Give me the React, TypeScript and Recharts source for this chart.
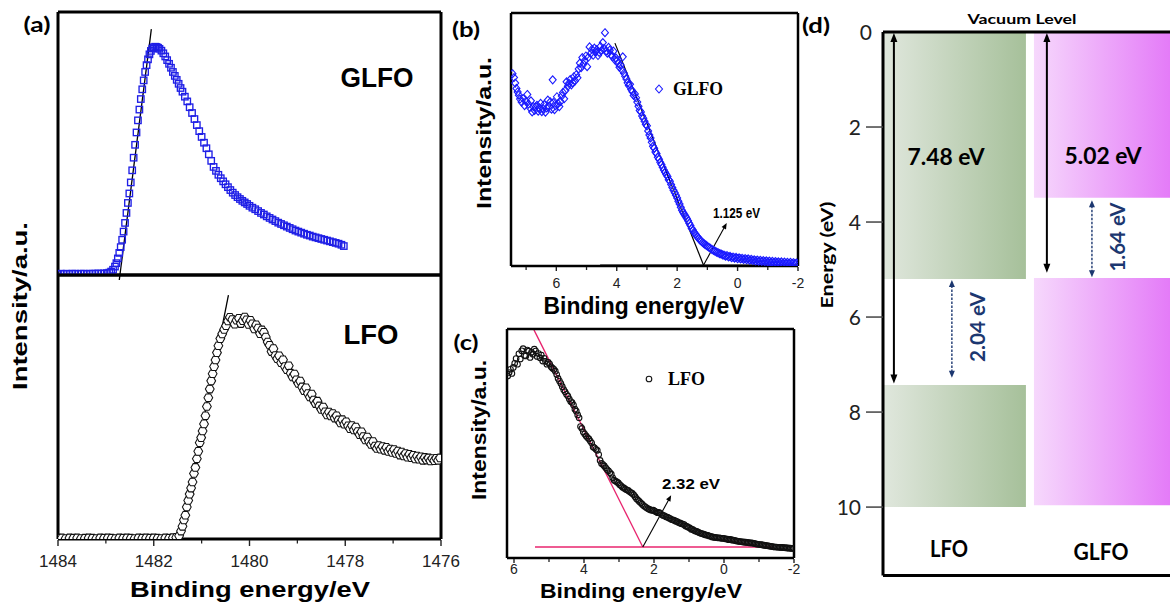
import React from "react";
import { ScatterChart, Scatter, XAxis, YAxis, ReferenceLine, ReferenceArea } from "recharts";

const W = 1170;
const H = 602;
const SANS = "'Liberation Sans', Arial, sans-serif";
const SERIF = "'Liberation Serif', 'Times New Roman', serif";
const CAL = "Lato, 'Open Sans', sans-serif";

// ---------- Panel (a): core-level edges, binding energy (eV) vs intensity (a.u.) ----------
const aTicks = [1484, 1483, 1482, 1481, 1480, 1479, 1478, 1477, 1476];

const glfoCore: number[][] = [
  [1484.0, 0.4], [1483.94, 0.5], [1483.88, 0.4], [1483.82, 0.5], [1483.76, 0.4], [1483.7, 0.5], [1483.64, 0.5],
  [1483.58, 0.4], [1483.52, 0.5], [1483.46, 0.5], [1483.4, 0.4], [1483.34, 0.5], [1483.28, 0.5], [1483.22, 0.5],
  [1483.16, 0.6], [1483.1, 0.5], [1483.04, 0.6], [1482.98, 0.7], [1482.93, 0.9], [1482.89, 1.3],
  [1482.85, 2.0], [1482.81, 3.2], [1482.78, 4.5], [1482.75, 6.3], [1482.72, 8.4], [1482.69, 10.6], [1482.66, 13.4],
  [1482.63, 16.5], [1482.6, 19.8], [1482.57, 23.6], [1482.54, 27.4], [1482.51, 31.0], [1482.48, 35.2], [1482.45, 39.8],
  [1482.42, 44.6], [1482.39, 49.5], [1482.36, 54.2], [1482.33, 58.8], [1482.3, 62.9], [1482.27, 66.9], [1482.24, 70.6],
  [1482.21, 74.0], [1482.18, 77.2], [1482.15, 79.8], [1482.12, 82.0], [1482.09, 83.9], [1482.06, 85.2], [1482.03, 86.1],
  [1482.0, 86.6], [1481.97, 86.8], [1481.94, 86.7], [1481.91, 86.4], [1481.88, 86.0], [1481.84, 85.3], [1481.8, 84.3],
  [1481.76, 83.1], [1481.72, 81.7], [1481.68, 80.3], [1481.64, 78.8], [1481.6, 77.2], [1481.56, 75.7], [1481.52, 74.2],
  [1481.48, 72.7], [1481.44, 71.1], [1481.4, 69.7], [1481.35, 67.8], [1481.3, 66.0], [1481.25, 63.8], [1481.2, 61.6],
  [1481.15, 59.3], [1481.1, 57.0], [1481.05, 54.7], [1481.0, 52.5], [1480.95, 50.3], [1480.9, 48.2], [1480.85, 45.9],
  [1480.8, 43.4], [1480.75, 41.1], [1480.7, 39.6], [1480.65, 38.1], [1480.6, 36.8], [1480.55, 35.6], [1480.5, 34.5],
  [1480.45, 33.4], [1480.4, 32.3], [1480.35, 31.3], [1480.3, 30.4], [1480.25, 29.6], [1480.2, 28.9], [1480.15, 28.2],
  [1480.1, 27.6], [1480.05, 27.0], [1480.0, 26.3], [1479.94, 25.6], [1479.88, 25.0], [1479.82, 24.3], [1479.76, 23.6],
  [1479.7, 23.0], [1479.64, 22.3], [1479.58, 21.7], [1479.52, 21.1], [1479.46, 20.5], [1479.4, 19.9], [1479.34, 19.4],
  [1479.28, 18.9], [1479.22, 18.4], [1479.16, 17.9], [1479.1, 17.4], [1479.04, 16.9], [1478.98, 16.5], [1478.92, 16.1],
  [1478.86, 15.7], [1478.8, 15.3], [1478.74, 15.0], [1478.68, 14.6], [1478.62, 14.3], [1478.56, 14.0], [1478.5, 13.7],
  [1478.44, 13.4], [1478.38, 13.1], [1478.32, 12.8], [1478.26, 12.5], [1478.2, 12.2], [1478.14, 11.9], [1478.08, 11.5],
  [1478.03, 11.0],
];

const lfoCore: number[][] = [
  [1484.0, 0.3], [1483.92, 0.4], [1483.84, 0.2], [1483.76, 0.4], [1483.68, 0.3], [1483.6, 0.4], [1483.52, 0.2],
  [1483.44, 0.3], [1483.36, 0.4], [1483.28, 0.3], [1483.2, 0.2], [1483.12, 0.4], [1483.04, 0.3], [1482.96, 0.4],
  [1482.88, 0.3], [1482.8, 0.2], [1482.72, 0.4], [1482.64, 0.3], [1482.56, 0.4], [1482.48, 0.3], [1482.4, 0.2],
  [1482.32, 0.4], [1482.24, 0.3], [1482.16, 0.4], [1482.08, 0.3], [1482.0, 0.4], [1481.92, 0.3], [1481.84, 0.2],
  [1481.76, 0.4], [1481.68, 0.3], [1481.6, 0.5], [1481.53, 0.6],
  [1481.47, 1.2], [1481.43, 3.0], [1481.4, 4.8], [1481.37, 7.2], [1481.34, 9.0], [1481.31, 12.1], [1481.28, 14.6],
  [1481.25, 17.0], [1481.22, 19.3], [1481.19, 21.6], [1481.16, 24.8], [1481.13, 27.1], [1481.1, 30.4], [1481.07, 33.2],
  [1481.04, 36.5], [1481.01, 38.4], [1480.98, 40.9], [1480.95, 43.6], [1480.92, 46.7], [1480.89, 50.2], [1480.86, 53.5],
  [1480.83, 56.8], [1480.8, 59.9], [1480.77, 62.6], [1480.74, 65.3], [1480.71, 67.8], [1480.68, 70.6], [1480.65, 73.2],
  [1480.61, 75.9], [1480.57, 77.7], [1480.53, 79.4], [1480.49, 80.8], [1480.45, 82.6], [1480.41, 84.0], [1480.36, 83.1],
  [1480.31, 81.4], [1480.27, 82.9], [1480.22, 83.6], [1480.18, 81.6], [1480.14, 82.7], [1480.1, 84.1], [1480.06, 83.0],
  [1480.02, 81.3], [1479.98, 82.8], [1479.94, 81.5], [1479.9, 79.6], [1479.86, 81.1], [1479.82, 79.9], [1479.78, 77.8],
  [1479.74, 79.2], [1479.7, 78.3], [1479.66, 76.5], [1479.62, 74.6], [1479.58, 73.4], [1479.54, 71.0], [1479.5, 72.1],
  [1479.46, 69.5], [1479.42, 68.3], [1479.38, 69.4], [1479.34, 66.8], [1479.3, 67.9], [1479.26, 65.3], [1479.22, 64.1],
  [1479.18, 65.6], [1479.14, 62.8], [1479.1, 61.4], [1479.06, 62.5], [1479.02, 60.3], [1478.98, 58.9], [1478.94, 59.8],
  [1478.9, 57.6], [1478.86, 56.2], [1478.82, 57.3], [1478.78, 55.1], [1478.74, 53.8], [1478.7, 54.9], [1478.66, 52.6],
  [1478.62, 51.3], [1478.58, 52.2], [1478.54, 50.4], [1478.5, 49.1], [1478.46, 50.0], [1478.42, 48.2], [1478.38, 47.0],
  [1478.34, 48.1], [1478.3, 46.6], [1478.26, 47.5], [1478.22, 45.8], [1478.18, 46.7], [1478.14, 45.1], [1478.1, 44.0],
  [1478.06, 45.2], [1478.02, 43.5], [1477.98, 44.4], [1477.94, 42.9], [1477.9, 41.8], [1477.86, 43.0], [1477.82, 41.3],
  [1477.78, 42.4], [1477.74, 40.7], [1477.7, 39.5], [1477.66, 40.6], [1477.62, 38.8], [1477.58, 37.5], [1477.54, 38.6],
  [1477.5, 36.9], [1477.46, 35.8], [1477.42, 36.9], [1477.38, 35.2], [1477.34, 34.3], [1477.3, 35.4], [1477.26, 34.0],
  [1477.22, 35.0], [1477.18, 33.6], [1477.14, 34.7], [1477.1, 33.2], [1477.06, 34.1], [1477.02, 32.8], [1476.98, 33.9],
  [1476.94, 32.4], [1476.9, 33.3], [1476.86, 31.8], [1476.82, 32.9], [1476.78, 31.5], [1476.74, 32.4], [1476.7, 31.0],
  [1476.66, 32.1], [1476.62, 30.8], [1476.58, 31.7], [1476.54, 30.3], [1476.5, 31.4], [1476.46, 30.2], [1476.42, 31.1],
  [1476.38, 29.8], [1476.34, 30.9], [1476.3, 29.9], [1476.26, 30.7], [1476.22, 29.6], [1476.18, 30.5], [1476.14, 29.7],
  [1476.1, 30.6], [1476.06, 29.8], [1476.02, 30.7],
];

const glfoCoreTangent = [[1482.72, -1.9], [1482.05, 93.5]];
const lfoCoreTangent = [[1481.45, 0.4], [1480.44, 92.4]];

// ---------- Panel (b): GLFO valence band ----------
const bTicks = [7, 6, 5, 4, 3, 2, 1, 0, -1, -2];
const glfoVB: number[][] = [
  [7.45, 76.0], [7.4, 74.5], [7.36, 72.3], [7.32, 70.2], [7.28, 68.8], [7.24, 67.5], [7.2, 66.0], [7.15, 64.8],
  [7.1, 66.2], [7.05, 63.4], [7.0, 65.1], [6.96, 67.8], [6.92, 64.0], [6.88, 62.6], [6.84, 65.3], [6.8, 60.9],
  [6.76, 63.0], [6.72, 61.5], [6.68, 62.9], [6.64, 63.5], [6.6, 61.2], [6.56, 62.4], [6.52, 64.3], [6.48, 61.0],
  [6.44, 62.2], [6.4, 63.8], [6.36, 60.8], [6.32, 62.5], [6.28, 65.6], [6.24, 63.1], [6.2, 64.9], [6.16, 62.0],
  [6.12, 73.6], [6.1, 64.6], [6.06, 61.8], [6.02, 63.4], [5.98, 66.9], [5.94, 64.2], [5.9, 63.0], [5.86, 65.0],
  [5.82, 67.2], [5.78, 68.6], [5.74, 66.1], [5.7, 69.4], [5.66, 72.8], [5.62, 71.0], [5.58, 72.2], [5.54, 73.7],
  [5.5, 71.6], [5.46, 72.5], [5.42, 74.8], [5.38, 73.2], [5.34, 75.6], [5.3, 74.4], [5.26, 77.9], [5.22, 80.2],
  [5.18, 78.4], [5.14, 82.4], [5.1, 79.8], [5.06, 81.2], [5.02, 83.0], [4.98, 78.8], [4.94, 82.5], [4.9, 86.6],
  [4.86, 84.0], [4.82, 85.6], [4.78, 83.3], [4.74, 86.1], [4.7, 84.7], [4.66, 85.5], [4.62, 83.2], [4.58, 84.4],
  [4.54, 86.8], [4.5, 85.2], [4.46, 88.3], [4.42, 86.0], [4.39, 92.2], [4.35, 85.0], [4.31, 84.1], [4.27, 86.4],
  [4.23, 85.3], [4.19, 83.6], [4.15, 82.8], [4.11, 84.9], [4.07, 81.6], [4.03, 82.3], [3.99, 81.2], [3.95, 80.0],
  [3.91, 78.6], [3.87, 79.4], [3.83, 77.5], [3.8, 82.7], [3.76, 76.2], [3.72, 75.0], [3.68, 73.9], [3.64, 72.4],
  [3.6, 71.3], [3.56, 71.8], [3.52, 69.8], [3.48, 68.9], [3.44, 67.4], [3.4, 68.0], [3.36, 66.5], [3.32, 64.8],
  [3.28, 63.1], [3.24, 61.5], [3.2, 60.9], [3.16, 59.3], [3.12, 58.4], [3.08, 57.2], [3.04, 56.0], [3.0, 55.4],
  [2.96, 53.4], [2.92, 51.8], [2.88, 50.6], [2.84, 48.9], [2.8, 47.3], [2.76, 46.5], [2.72, 45.1], [2.68, 44.4],
  [2.64, 43.0], [2.6, 42.2], [2.56, 41.0], [2.52, 40.1], [2.48, 39.0], [2.44, 37.9], [2.4, 37.1], [2.36, 36.2],
  [2.32, 35.4], [2.28, 34.1], [2.24, 33.5], [2.2, 32.2], [2.16, 31.0], [2.12, 29.9], [2.08, 29.0], [2.04, 28.0],
  [2.0, 26.9], [1.96, 25.6], [1.92, 24.5], [1.88, 23.2], [1.84, 22.0], [1.8, 21.1], [1.76, 20.4], [1.72, 19.6],
  [1.68, 18.8], [1.64, 17.9], [1.6, 16.9], [1.56, 16.0], [1.52, 14.9], [1.48, 14.2], [1.44, 13.3], [1.4, 12.7],
  [1.36, 12.0], [1.32, 11.4], [1.28, 10.8], [1.24, 10.2], [1.2, 9.8], [1.16, 9.3], [1.12, 8.9], [1.08, 8.5],
  [1.04, 8.2], [1.0, 7.8], [0.95, 7.4], [0.9, 7.0], [0.85, 6.6], [0.8, 6.2], [0.75, 5.9], [0.7, 5.5], [0.65, 5.3],
  [0.6, 4.9], [0.55, 4.8], [0.5, 4.4], [0.45, 4.3], [0.4, 3.9], [0.35, 4.1], [0.3, 3.6], [0.25, 3.8], [0.2, 3.3],
  [0.15, 3.5], [0.1, 3.1], [0.05, 3.4], [0.0, 2.9], [-0.05, 3.2], [-0.1, 2.8], [-0.15, 3.0], [-0.2, 2.6], [-0.25, 2.9],
  [-0.3, 2.5], [-0.35, 2.8], [-0.4, 2.3], [-0.45, 2.6], [-0.5, 2.2], [-0.55, 2.4], [-0.6, 2.0], [-0.65, 2.3],
  [-0.7, 1.9], [-0.75, 2.2], [-0.8, 1.8], [-0.85, 2.1], [-0.9, 1.7], [-0.95, 2.0], [-1.0, 1.6], [-1.05, 1.9],
  [-1.1, 1.5], [-1.15, 1.8], [-1.2, 1.4], [-1.25, 1.7], [-1.3, 1.4], [-1.35, 1.6], [-1.4, 1.3], [-1.45, 1.6],
  [-1.5, 1.2], [-1.55, 1.5], [-1.6, 1.2], [-1.65, 1.4], [-1.7, 1.1], [-1.75, 1.4], [-1.8, 1.1], [-1.85, 1.3],
  [-1.9, 1.0], [-1.95, 1.2],
];
const glfoVBTangent = [[4.06, 88.1], [1.125, 0.3]];
const glfoVBBase = [[4.55, 0.4], [-2, 0.4]];
const glfoVBArrow = [[1.125, 0.4], [0.36, 17.0]];

// ---------- Panel (c): LFO valence band ----------
const cTicks = [6, 5, 4, 3, 2, 1, 0, -1, -2];
const lfoVB: number[][] = [
  [6.18, 79.5], [6.14, 81.0], [6.1, 82.4], [6.06, 80.6], [6.02, 83.2], [5.98, 85.0], [5.94, 87.1], [5.9, 84.6],
  [5.86, 89.2], [5.82, 86.9], [5.78, 90.5], [5.74, 91.4], [5.7, 88.4], [5.66, 88.2], [5.62, 90.8], [5.58, 90.3],
  [5.54, 87.6], [5.5, 89.8], [5.46, 89.0], [5.42, 91.2], [5.38, 90.4], [5.34, 88.0], [5.3, 89.3], [5.26, 87.4],
  [5.22, 88.6], [5.18, 86.0], [5.14, 87.2], [5.1, 85.9], [5.06, 84.6], [5.02, 85.4], [4.98, 84.7], [4.94, 83.5],
  [4.9, 82.9], [4.86, 82.4], [4.82, 81.6], [4.78, 80.1], [4.74, 78.4], [4.7, 77.3], [4.66, 76.2], [4.62, 74.8],
  [4.58, 73.5], [4.54, 72.6], [4.5, 71.5], [4.46, 70.7], [4.42, 69.4], [4.38, 68.3], [4.34, 67.9], [4.3, 66.8],
  [4.26, 65.0], [4.22, 64.1], [4.18, 62.5], [4.14, 61.2], [4.1, 57.4], [4.06, 56.6], [4.02, 55.0], [3.98, 54.1],
  [3.94, 53.3], [3.9, 52.6], [3.86, 52.0], [3.82, 51.1], [3.78, 50.2], [3.74, 48.5], [3.7, 48.1], [3.66, 47.5],
  [3.62, 47.0], [3.58, 45.2], [3.54, 42.6], [3.5, 41.3], [3.46, 40.8], [3.42, 40.2], [3.38, 39.4], [3.34, 38.6],
  [3.3, 38.1], [3.26, 37.3], [3.22, 36.6], [3.18, 35.0], [3.14, 34.0], [3.1, 33.6], [3.06, 33.2], [3.02, 32.8],
  [2.98, 32.0], [2.94, 31.5], [2.9, 30.9], [2.86, 30.6], [2.82, 30.1], [2.78, 29.8], [2.74, 29.5], [2.7, 29.0],
  [2.66, 28.6], [2.62, 28.2], [2.58, 27.6], [2.54, 26.8], [2.5, 25.9], [2.46, 25.3], [2.42, 24.7], [2.38, 24.1],
  [2.34, 23.5], [2.3, 22.9], [2.26, 22.4], [2.22, 22.0], [2.18, 21.6], [2.14, 21.3], [2.1, 21.0], [2.06, 20.8],
  [2.02, 20.9], [1.98, 20.5], [1.94, 20.2], [1.9, 19.8], [1.86, 19.9], [1.82, 19.5], [1.78, 19.0], [1.74, 18.6],
  [1.7, 18.4], [1.66, 18.0], [1.62, 17.9], [1.58, 17.5], [1.54, 17.2], [1.5, 16.8], [1.46, 16.7], [1.42, 16.4],
  [1.38, 16.1], [1.34, 15.9], [1.3, 15.5], [1.26, 15.3], [1.22, 15.0], [1.18, 14.8], [1.14, 14.6], [1.1, 14.0],
  [1.06, 13.8], [1.02, 13.4], [0.98, 13.2], [0.94, 12.6], [0.9, 12.5], [0.86, 12.1], [0.82, 11.8], [0.78, 11.6],
  [0.74, 11.3], [0.7, 11.0], [0.66, 10.8], [0.62, 10.6], [0.58, 10.4], [0.54, 10.1], [0.5, 10.0], [0.46, 9.9],
  [0.42, 9.6], [0.38, 9.5], [0.34, 9.2], [0.3, 9.1], [0.26, 9.0], [0.22, 8.9], [0.18, 8.8], [0.14, 8.8], [0.1, 8.7],
  [0.06, 8.6], [0.02, 8.6], [-0.02, 8.5], [-0.06, 8.3], [-0.1, 8.2], [-0.14, 8.0], [-0.18, 8.1], [-0.22, 7.9],
  [-0.26, 7.8], [-0.3, 7.7], [-0.34, 7.5], [-0.38, 7.4], [-0.42, 7.3], [-0.46, 7.2], [-0.5, 7.1], [-0.54, 7.0],
  [-0.58, 6.9], [-0.62, 6.9], [-0.66, 6.8], [-0.7, 6.7], [-0.74, 6.6], [-0.78, 6.6], [-0.82, 6.5], [-0.86, 6.4],
  [-0.9, 6.2], [-0.94, 6.1], [-0.98, 6.0], [-1.02, 5.9], [-1.06, 5.9], [-1.1, 5.7], [-1.14, 5.6], [-1.18, 5.5],
  [-1.22, 5.4], [-1.26, 5.3], [-1.3, 5.2], [-1.34, 5.1], [-1.38, 5.0], [-1.42, 4.9], [-1.46, 4.8], [-1.5, 4.8],
  [-1.54, 4.7], [-1.58, 4.7], [-1.62, 4.6], [-1.66, 4.6], [-1.7, 4.5], [-1.74, 4.5], [-1.78, 4.4], [-1.82, 4.4],
  [-1.86, 4.3], [-1.9, 4.3], [-1.94, 4.2], [-1.98, 4.2],
];
const lfoVBTangent = [[5.43, 99.6], [2.32, 4.8]];
const lfoVBBase = [[5.4, 4.8], [-1.43, 4.8]];
const lfoVBArrow = [[2.32, 4.8], [1.51, 27.4]];

// ---------- Panel (d): band diagram (energy below vacuum level, eV) ----------
const dTicks = [0, 2, 4, 6, 8, 10];
const bandNames = ["LFO", "GLFO"];
const bandX = [[0, 4.98], [5.26, 10]];
const upperBand = [[0, 5.2], [0, 3.49]];
const lowerBand = [[7.43, 10], [5.18, 9.96]];
const bandGrad = ["gradLFO", "gradGLFO"];
const workArrows = [[0.38, 0.02, 7.4], [5.71, 0.02, 5.07]];
const gapArrows = [[2.4, 5.22, 7.28], [7.28, 3.54, 5.16]];

const toPts = (arr: number[][]) => arr.map(([x, y]) => ({ x, y }));
const seg = (s: number[][]) => [{ x: s[0][0], y: s[0][1] }, { x: s[1][0], y: s[1][1] }];

const frame = (w: number) => ({ stroke: "#000", strokeWidth: w });

// margins so that the plot rectangle is exactly [l, r] x [t, b]; every frame axis is 1px thick
const box = (l: number, t: number, r: number, b: number, right = true) => ({
  top: t - 1,
  left: l - 1,
  right: right ? W - r - 1 : W - r,
  bottom: H - b - 1,
});

const squareShape = (p: any) => (
  <rect x={p.cx - 3.2} y={p.cy - 3.2} width={6.4} height={6.4} fill="none" stroke="#1f1fe6" strokeWidth={1.35} />
);
const hexShape = (p: any) => {
  const r = 4.4;
  const pts = [0, 60, 120, 180, 240, 300]
    .map((a) => `${p.cx + r * Math.cos((a * Math.PI) / 180)},${p.cy + r * Math.sin((a * Math.PI) / 180)}`)
    .join(" ");
  return <polygon points={pts} fill="#fff" stroke="#111" strokeWidth={1.05} />;
};
const diamondShape = (p: any) => (
  <polygon
    points={`${p.cx},${p.cy - 4} ${p.cx + 3.5},${p.cy} ${p.cx},${p.cy + 4} ${p.cx - 3.5},${p.cy}`}
    fill="none"
    stroke="#1a1aff"
    strokeWidth={1.1}
  />
);
const circleShape = (p: any) => <circle cx={p.cx} cy={p.cy} r={2.8} fill="none" stroke="#111" strokeWidth={1.1} />;

function arrowShape(color: string, sw: number, head: number, hw: number, both: boolean, dash?: string) {
  return (p: any) => {
    const { x1, y1, x2, y2 } = p;
    const dx = x2 - x1;
    const dy = y2 - y1;
    const L = Math.hypot(dx, dy) || 1;
    const ux = dx / L;
    const uy = dy / L;
    const nx = -uy;
    const ny = ux;
    const tri = (tx: number, ty: number, du: number, dv: number) => {
      const bx = tx - du * head;
      const by = ty - dv * head;
      return `${tx},${ty} ${bx + nx * hw},${by + ny * hw} ${bx - nx * hw},${by - ny * hw}`;
    };
    const sx = both ? x1 + ux * head * 0.8 : x1;
    const sy = both ? y1 + uy * head * 0.8 : y1;
    const ex = x2 - ux * head * 0.8;
    const ey = y2 - uy * head * 0.8;
    return (
      <g>
        <line x1={sx} y1={sy} x2={ex} y2={ey} stroke={color} strokeWidth={sw} strokeDasharray={dash} />
        <polygon points={tri(x2, y2, ux, uy)} fill={color} />
        {both && <polygon points={tri(x1, y1, -ux, -uy)} fill={color} />}
      </g>
    );
  };
}

const makeXTick = (fs: number, gap: number, majorLen: number, minorLen: number) => (p: any) => {
  const v = p.payload.value;
  if (Math.abs(v) % 2 === 0) {
    return (
      <g>
        <line x1={p.x} x2={p.x} y1={p.y + 1} y2={p.y + 1 + majorLen} stroke="#222" strokeWidth={1.4} />
        <text x={p.x} y={p.y + gap} dy="0.72em" textAnchor="middle" fontSize={fs} fontFamily={SANS} fill="#222">
          {String(v)}
        </text>
      </g>
    );
  }
  return <line x1={p.x} x2={p.x} y1={p.y + 1} y2={p.y + 1 + minorLen} stroke="#222" strokeWidth={1.3} />;
};

const dYTick = (p: any) => {
  const v = p.payload.value;
  if (v === 0) {
    return (
      <text x={p.x - 11} y={p.y} dy="0.36em" textAnchor="end" fontSize={21} fontFamily={CAL} fill="#222">
        0
      </text>
    );
  }
  return (
    <g>
      <line x1={p.x - 17} x2={p.x} y1={p.y} y2={p.y} stroke="#444" strokeWidth={1.5} />
      <text x={p.x - 22} y={p.y} dy="0.36em" textAnchor="end" fontSize={21} fontFamily={CAL} fill="#222">
        {String(v)}
      </text>
    </g>
  );
};

const abs: React.CSSProperties = { position: "absolute", left: 0, top: 0 };

type Lbl = { t: string; x: number; y: number; fs: number; len: number; f?: string; rot?: number; fill?: string; anchor?: string };
const labels: Lbl[] = [
  { t: "(a)", x: 37, y: 23, fs: 21, len: 27, f: CAL },
  { t: "GLFO", x: 377, y: 78, fs: 27, len: 73 },
  { t: "LFO", x: 371, y: 335, fs: 27, len: 55 },
  { t: "Intensity/a.u.", x: 20, y: 306, fs: 20, len: 168, rot: -90 },
  { t: "Binding energy/eV", x: 250, y: 589, fs: 22, len: 240 },
  { t: "(b)", x: 466, y: 28, fs: 21, len: 28, f: CAL },
  { t: "Intensity/a.u.", x: 484, y: 133, fs: 20, len: 152, rot: -90 },
  { t: "Binding energy/eV", x: 644, y: 306, fs: 23, len: 201 },
  { t: "GLFO", x: 673, y: 89, fs: 18, len: 50, f: SERIF, anchor: "start" },
  { t: "1.125 eV", x: 713, y: 212, fs: 15, len: 47, anchor: "start" },
  { t: "(c)", x: 466, y: 341, fs: 21, len: 25, f: CAL },
  { t: "Intensity/a.u.", x: 479, y: 430, fs: 20, len: 140, rot: -90 },
  { t: "Binding energy/eV", x: 641, y: 590, fs: 21, len: 202 },
  { t: "LFO", x: 668, y: 379, fs: 18, len: 37, f: SERIF, anchor: "start" },
  { t: "2.32 eV", x: 662, y: 483, fs: 15, len: 58, anchor: "start" },
  { t: "(d)", x: 816, y: 24, fs: 21, len: 28, f: CAL },
  { t: "Vacuum Level", x: 1022, y: 18.5, fs: 14, len: 109, f: CAL },
  { t: "7.48 eV", x: 946, y: 156, fs: 23, len: 77, f: CAL },
  { t: "5.02 eV", x: 1103, y: 155, fs: 23, len: 77, f: CAL },
  { t: "2.04 eV", x: 977, y: 327, fs: 20, len: 70, f: CAL, rot: -90, fill: "#1c3770" },
  { t: "1.64 eV", x: 1117, y: 237, fs: 20, len: 69, f: CAL, rot: -90, fill: "#1c3770" },
  { t: "Energy (eV)", x: 826, y: 255, fs: 17, len: 107, f: CAL, rot: -90 },
  { t: "LFO", x: 949, y: 548, fs: 22, len: 38, f: CAL },
  { t: "GLFO", x: 1101, y: 551, fs: 22, len: 55, f: CAL },
];

export default function App() {
  return (
    <div style={{ position: "absolute", left: 0, top: 0, width: W, height: H, overflow: "hidden", background: "#fff" }}>
      <svg width={0} height={0} style={{ position: "absolute" }}>
        <defs>
          <linearGradient id="gradLFO" x1="0" y1="0" x2="1" y2="0">
            <stop offset="0%" stopColor="#e0e7dd" />
            <stop offset="100%" stopColor="#a6c09a" />
          </linearGradient>
          <linearGradient id="gradGLFO" x1="0" y1="0" x2="1" y2="0">
            <stop offset="0%" stopColor="#f6d8fc" />
            <stop offset="100%" stopColor="#e47bf8" />
          </linearGradient>
        </defs>
      </svg>

      {/* (a) top: GLFO */}
      <div style={abs}>
        <ScatterChart width={W} height={H} margin={box(58, 12, 441, 275)}>
          <XAxis type="number" dataKey="x" domain={[1476, 1484]} reversed allowDataOverflow tick={false} tickLine={false} axisLine={frame(3)} height={1} />
          <XAxis xAxisId="t" orientation="top" type="number" domain={[0, 1]} tick={false} tickLine={false} axisLine={frame(3)} height={1} />
          <YAxis type="number" dataKey="y" domain={[0, 100]} allowDataOverflow tick={false} tickLine={false} axisLine={frame(3)} width={1} />
          <YAxis yAxisId="r" orientation="right" type="number" domain={[0, 1]} tick={false} tickLine={false} axisLine={frame(3)} width={1} />
          <Scatter data={toPts(glfoCore)} shape={squareShape} isAnimationActive={false} />
          <ReferenceLine segment={seg(glfoCoreTangent)} stroke="#000" strokeWidth={1.3} ifOverflow="visible" />
        </ScatterChart>
      </div>

      {/* (a) bottom: LFO */}
      <div style={abs}>
        <ScatterChart width={W} height={H} margin={box(58, 275, 441, 539)}>
          <XAxis type="number" dataKey="x" domain={[1476, 1484]} reversed allowDataOverflow ticks={aTicks} interval={0}
            tick={makeXTick(17, 16, 6, 3.5)} tickLine={false} tickSize={0} tickMargin={0} axisLine={frame(3)} height={1} />
          <XAxis xAxisId="t" orientation="top" type="number" domain={[0, 1]} tick={false} tickLine={false} axisLine={frame(3)} height={1} />
          <YAxis type="number" dataKey="y" domain={[0, 100]} allowDataOverflow tick={false} tickLine={false} axisLine={frame(3)} width={1} />
          <YAxis yAxisId="r" orientation="right" type="number" domain={[0, 1]} tick={false} tickLine={false} axisLine={frame(3)} width={1} />
          <Scatter data={toPts(lfoCore)} shape={hexShape} isAnimationActive={false} />
          <ReferenceLine segment={seg(lfoCoreTangent)} stroke="#000" strokeWidth={1.3} ifOverflow="visible" />
        </ScatterChart>
      </div>

      {/* (b) GLFO valence band */}
      <div style={abs}>
        <ScatterChart width={W} height={H} margin={box(511, 13, 798, 266)}>
          <XAxis type="number" dataKey="x" domain={[-2, 7.5]} reversed allowDataOverflow ticks={bTicks} interval={0}
            tick={makeXTick(14, 12, 4, 3)} tickLine={false} tickSize={0} tickMargin={0} axisLine={frame(2.5)} height={1} />
          <XAxis xAxisId="t" orientation="top" type="number" domain={[0, 1]} tick={false} tickLine={false} axisLine={frame(2.5)} height={1} />
          <YAxis type="number" dataKey="y" domain={[0, 100]} allowDataOverflow tick={false} tickLine={false} axisLine={frame(2.5)} width={1} />
          <YAxis yAxisId="r" orientation="right" type="number" domain={[0, 1]} tick={false} tickLine={false} axisLine={frame(2.5)} width={1} />
          <Scatter data={toPts(glfoVB)} shape={diamondShape} isAnimationActive={false} />
          <ReferenceLine segment={seg(glfoVBBase)} stroke="#000" strokeWidth={1} ifOverflow="visible" />
          <ReferenceLine segment={seg(glfoVBTangent)} stroke="#000" strokeWidth={1.2} ifOverflow="visible" />
          <ReferenceLine segment={seg(glfoVBArrow)} ifOverflow="visible" shape={arrowShape("#000", 1.1, 6, 2.5, false)} />
        </ScatterChart>
      </div>

      {/* (c) LFO valence band */}
      <div style={abs}>
        <ScatterChart width={W} height={H} margin={box(507, 329, 794, 558)}>
          <XAxis type="number" dataKey="x" domain={[-2, 6.2]} reversed allowDataOverflow ticks={cTicks} interval={0}
            tick={makeXTick(14, 6, 4, 3)} tickLine={false} tickSize={0} tickMargin={0} axisLine={frame(2.5)} height={1} />
          <XAxis xAxisId="t" orientation="top" type="number" domain={[0, 1]} tick={false} tickLine={false} axisLine={frame(2.5)} height={1} />
          <YAxis type="number" dataKey="y" domain={[0, 100]} allowDataOverflow tick={false} tickLine={false} axisLine={frame(2.5)} width={1} />
          <YAxis yAxisId="r" orientation="right" type="number" domain={[0, 1]} tick={false} tickLine={false} axisLine={frame(2.5)} width={1} />
          <Scatter data={toPts(lfoVB)} shape={circleShape} isAnimationActive={false} />
          <ReferenceLine segment={seg(lfoVBBase)} stroke="#e8246e" strokeWidth={1.3} ifOverflow="visible" />
          <ReferenceLine segment={seg(lfoVBTangent)} stroke="#e8246e" strokeWidth={1.3} ifOverflow="visible" />
          <ReferenceLine segment={seg(lfoVBArrow)} ifOverflow="visible" shape={arrowShape("#000", 1.1, 6, 2.5, false)} />
        </ScatterChart>
      </div>

      {/* (d) band diagram */}
      <div style={abs}>
        <ScatterChart width={W} height={H} margin={box(883, 32, 1170, 575.5, false)}>
          <XAxis type="number" dataKey="x" domain={[0, 10]} allowDataOverflow tick={false} tickLine={false} axisLine={frame(3)} height={1} />
          <XAxis xAxisId="t" orientation="top" type="number" domain={[0, 10]} tick={false} tickLine={false} axisLine={frame(3)} height={1} />
          <YAxis type="number" dataKey="y" domain={[0, 11.44]} reversed allowDataOverflow ticks={dTicks} interval={0}
            tick={dYTick} tickLine={false} tickSize={0} tickMargin={0} axisLine={frame(3)} width={1} />
          {bandNames.map((n, i) => (
            <ReferenceArea key={n + "u"} x1={bandX[i][0]} x2={bandX[i][1]} y1={upperBand[i][0]} y2={upperBand[i][1]}
              fill={`url(#${bandGrad[i]})`} fillOpacity={1} stroke="none" ifOverflow="visible" />
          ))}
          {bandNames.map((n, i) => (
            <ReferenceArea key={n + "l"} x1={bandX[i][0]} x2={bandX[i][1]} y1={lowerBand[i][0]} y2={lowerBand[i][1]}
              fill={`url(#${bandGrad[i]})`} fillOpacity={1} stroke="none" ifOverflow="visible" />
          ))}
          {workArrows.map((a, i) => (
            <ReferenceLine key={"w" + i} segment={[{ x: a[0], y: a[1] }, { x: a[0], y: a[2] }]} ifOverflow="visible"
              shape={arrowShape("#000", 2, 9, 3.5, true)} />
          ))}
          {gapArrows.map((a, i) => (
            <ReferenceLine key={"g" + i} segment={[{ x: a[0], y: a[1] }, { x: a[0], y: a[2] }]} ifOverflow="visible"
              shape={arrowShape("#1c3770", 1.4, 7, 3, true, "2.5 1.5")} />
          ))}
        </ScatterChart>
      </div>

      {/* text overlay */}
      <svg width={W} height={H} style={{ ...abs, pointerEvents: "none" }}>
        <polygon points="659,85 662.5,89 659,93 655.5,89" fill="none" stroke="#1a1aff" strokeWidth={1.1} />
        <circle cx={649} cy={379} r={2.8} fill="none" stroke="#111" strokeWidth={1.1} />
        {labels.map((l, i) => (
          <text
            key={i}
            x={l.x}
            y={l.y}
            fontSize={l.fs}
            fontFamily={l.f || SANS}
            fontWeight="bold"
            fill={l.fill || "#000"}
            textAnchor={(l.anchor as any) || "middle"}
            dominantBaseline="central"
            textLength={l.len}
            lengthAdjust="spacingAndGlyphs"
            transform={l.rot ? `rotate(${l.rot} ${l.x} ${l.y})` : undefined}
          >
            {l.t}
          </text>
        ))}
      </svg>
    </div>
  );
}
